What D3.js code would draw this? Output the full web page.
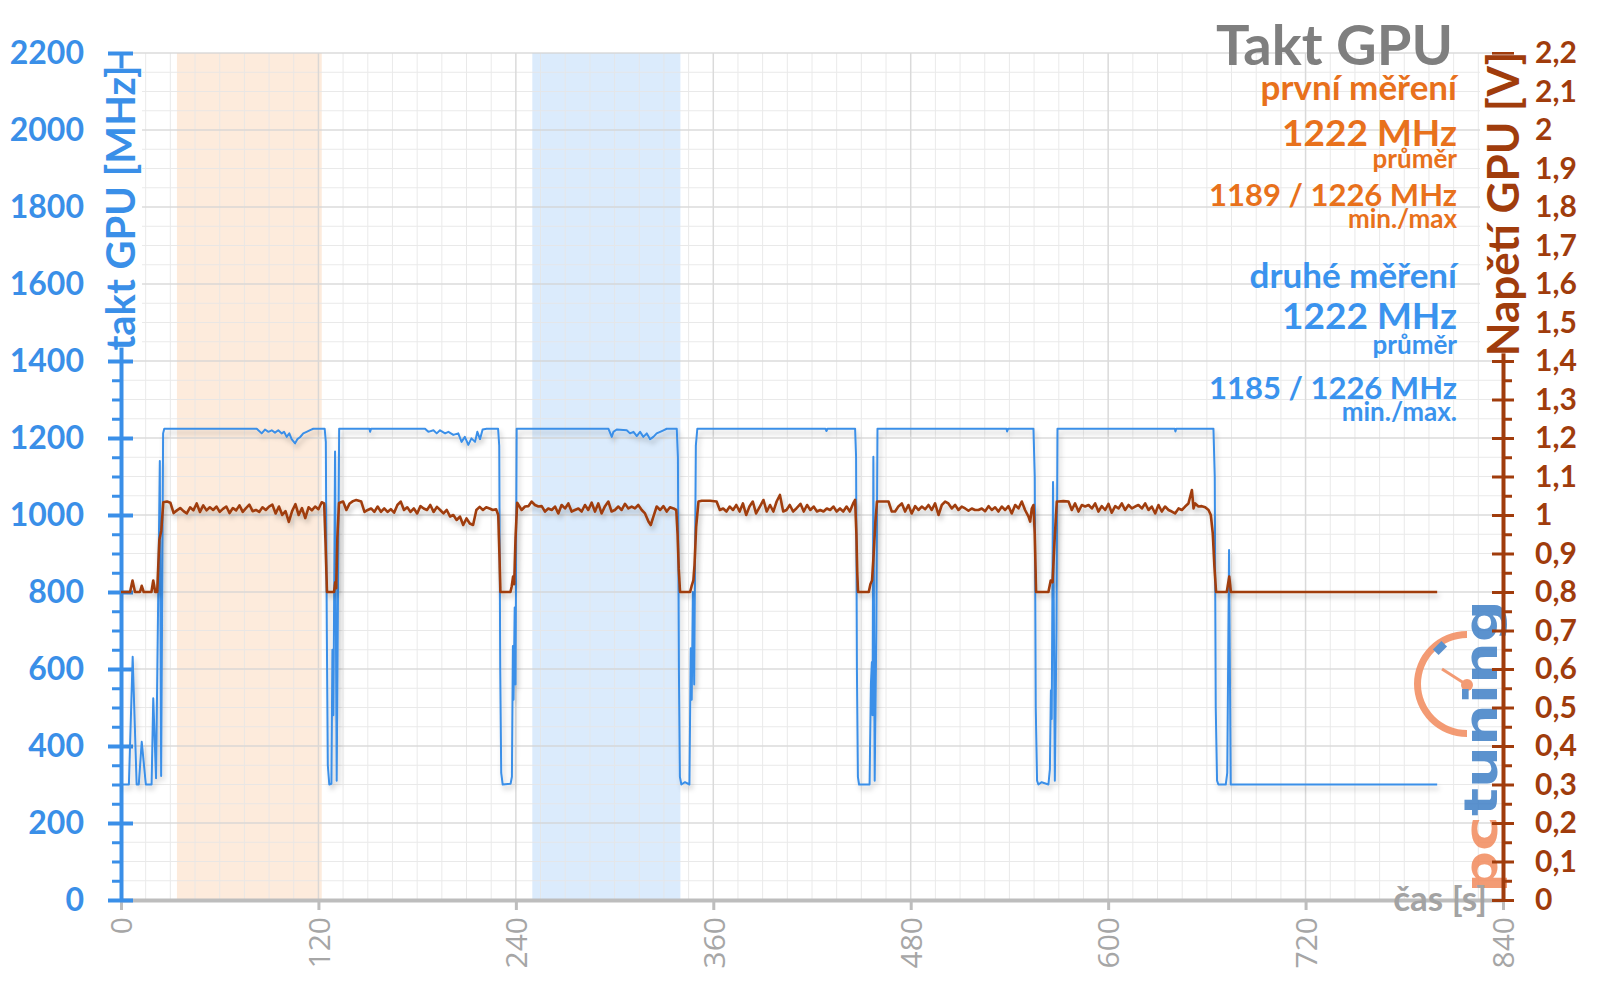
<!DOCTYPE html>
<html><head><meta charset="utf-8">
<script src="https://cdn.jsdelivr.net/npm/d3@7"></script>
<style>html,body{margin:0;padding:0;background:#fff;}svg{display:block}</style>
</head><body>
<svg id="chart" width="1600" height="999"></svg>
<script>
// ---------------- DATA ----------------
const xTicks = [0,120,240,360,480,600,720,840];
const leftTicks = [0,200,400,600,800,1000,1200,1400,1600,1800,2000,2200];
const rightTicks = [0,0.1,0.2,0.3,0.4,0.5,0.6,0.7,0.8,0.9,1,1.1,1.2,1.3,1.4,1.5,1.6,1.7,1.8,1.9,2,2.1,2.2];
const rightTickLabels = ["0","0,1","0,2","0,3","0,4","0,5","0,6","0,7","0,8","0,9","1","1,1","1,2","1,3","1,4","1,5","1,6","1,7","1,8","1,9","2","2,1","2,2"];
const bandFirst = [34,122];   // první měření (orange)
const bandSecond = [250,340]; // druhé měření (blue)

// GPU clock [s, MHz]
const clockPoints = [
[0,300],[4.8,300],[7.1,632],[9.5,300],[10.8,300],[12.6,411],[15.1,300],[18.6,300],[19.6,524],[21.3,316],[23.6,1140],[24.4,322],[25.6,1212],[26.3,1224],
[82.5,1224],[85.5,1212],[87.5,1222],[89.6,1216],[91.6,1220],[93.6,1214],[95.6,1220],[97.7,1212],[99.1,1216],[100.7,1203],[102.3,1212],[103.7,1197],[105.8,1186],[107.2,1197],[108.8,1202],[110.8,1212],[112.8,1216],[115.3,1221],[116.9,1224],[123.8,1224],[124.5,1190],[125.1,700],[125.7,350],[126.6,300],[127.9,302],[128.5,650],[129.1,480],[130.1,1165],[131.1,310],[132.6,1224],
[151,1224],[151.4,1216],[152,1224],[184.8,1224],[186.8,1216],[189.9,1220],[191.9,1212],[193.9,1220],[197,1212],[199,1216],[202,1208],[205,1212],[207,1190],[209,1203],[211.1,1182],[213,1199],[215.2,1190],[216.6,1216],[218.2,1197],[219.8,1222],[222.3,1224],[229.2,1224],[229.9,1180],[230.5,600],[231.1,330],[232,300],[236.8,302],[237.6,320],[238.2,660],[238.6,520],[239.3,760],[239.8,560],[240.5,1224],
[296.3,1224],[298.3,1203],[299.3,1216],[301.3,1222],[307.4,1220],[309.4,1212],[311.5,1216],[313.5,1205],[315.5,1216],[317.5,1203],[319.6,1212],[321.6,1197],[323.6,1203],[325.6,1212],[327.7,1216],[329.7,1220],[331.7,1224],[337.8,1224],[338.5,1150],[339.1,600],[339.7,320],[340.6,300],[342.8,306],[345.5,300],[346.3,654],[346.9,520],[347.6,800],[348.4,560],[349.4,1180],[350.3,1224],
[428.2,1224],[428.8,1218],[429.4,1224],[446.2,1224],[446.8,1150],[447.3,600],[447.9,320],[448.6,300],[455,300],[455.8,560],[456.4,618],[456.8,480],[457.3,1151],[458.1,310],[459.1,700],[459.8,1224],
[538.2,1224],[538.6,1217],[539.2,1224],[554.6,1224],[555.4,1100],[556,500],[556.8,310],[557.6,300],[559.6,306],[563.7,300],[564.6,340],[565.2,545],[565.7,470],[566.5,1086],[567.6,310],[568.6,700],[569.2,1224],
[640.5,1224],[640.9,1217],[641.4,1224],[664,1224],[664.8,1100],[665.4,500],[666.2,310],[667,300],[671.5,300],[672.4,330],[673.5,909],[674.5,300],[800,300]
];

// GPU voltage [s, V]
const voltagePoints = [
[0,0.80],[5.5,0.80],[7,0.83],[8.5,0.80],[11.5,0.80],[12.6,0.816],[13.8,0.80],[18.5,0.80],[19.6,0.83],[20.8,0.80],[22,0.80],[23.3,0.935],[24.5,0.96],[25.7,1.033],
[28,1.035],[30,1.032],[32,1.005],[34,1.012],[36,1.018],[38,1.010],[40,1.004],[42,1.020],[44,1.012],[46,1.030],[48,1.008],[50,1.025],[52,1.012],[54,1.020],[56,1.013],[58,1.022],[60,1.008],[62,1.016],[64,1.022],[66,1.005],[68,1.018],[70,1.012],[72,1.025],[74,1.008],[76,1.018],[78,1.027],[80,1.010],[82,1.013],[84,1.008],[86,1.020],[88,1.013],[90,1.022],[92,1.027],[94,1.004],[96,1.022],[98,1.000],[100,1.010],[102,0.982],[104,1.010],[106,1.028],[108,1.000],[110,1.018],[112,0.992],[114,1.020],[116,1.012],[118,1.022],[120,1.015],[122,1.033],[123.5,1.030],[124.3,0.93],[125.2,0.80],
[129.5,0.80],[130.2,0.825],[130.8,0.81],[131.5,0.94],[132.5,1.031],
[135,1.035],[137,1.013],[139,1.030],[141,1.036],[143,1.039],[146,1.035],[148,1.008],[150,1.013],[152,1.017],[154,1.008],[156,1.022],[158,1.008],[160,1.017],[162,1.008],[164,1.015],[166,1.006],[168,1.026],[170,1.035],[172,1.013],[174,1.020],[176,1.008],[178,1.017],[180,1.004],[182,1.023],[184,1.017],[186,1.013],[188,1.026],[190,1.008],[192,1.021],[194,1.013],[196,1.004],[198,1.013],[200,0.996],[202,1.000],[204,0.987],[206,0.996],[208,0.974],[210,0.991],[212,0.978],[214,0.974],[216,1.013],[218,1.021],[220,1.013],[222,1.020],[224,1.017],[226,1.013],[228,1.015],[229.3,1.00],[230,0.90],[230.6,0.80],
[236.7,0.80],[237.5,0.815],[238.3,0.84],[239,0.82],[239.8,0.94],[240.8,1.032],
[243.5,1.013],[245.6,1.022],[247.6,1.023],[249.6,1.035],[251.6,1.026],[253.7,1.022],[255.7,1.023],[257.7,1.009],[259.7,1.017],[261.8,1.013],[263.8,1.022],[265.8,1.004],[267.8,1.026],[269.9,1.017],[271.9,1.030],[273.9,1.009],[275.9,1.013],[278,1.017],[280,1.009],[282,1.026],[284,1.013],[286.1,1.032],[288.1,1.009],[290.1,1.030],[292.1,1.004],[294.2,1.023],[296.2,1.035],[298.2,1.009],[300.2,1.013],[302.3,1.022],[304.3,1.013],[306.3,1.029],[308.4,1.017],[310.4,1.022],[312.4,1.017],[314.4,1.026],[316.5,1.013],[318.5,1.004],[320.6,0.983],[322,0.974],[323.6,0.996],[325.6,1.022],[327.7,1.013],[329.7,1.023],[331.7,1.009],[333.7,1.020],[335.8,1.017],[337.5,1.013],[338.3,0.95],[339,0.86],[339.8,0.80],
[345.9,0.80],[346.8,0.815],[347.9,0.83],[348.6,0.87],[349.6,0.97],[351,1.035],
[353,1.037],[355,1.037],[358,1.037],[362,1.035],[364,1.013],[366,1.017],[368,1.009],[370,1.022],[372,1.013],[374,1.026],[376,1.009],[378,1.030],[380,1.000],[382,1.022],[384,1.035],[386,1.004],[388.5,1.023],[390.5,1.039],[392.5,1.009],[394.5,1.026],[396.5,1.009],[398.5,1.035],[400.5,1.052],[402.5,1.009],[404.5,1.013],[406.5,1.026],[408.5,1.009],[410.5,1.017],[413,1.029],[415,1.009],[417,1.026],[419,1.013],[421,1.022],[423,1.009],[425,1.013],[427,1.009],[429,1.017],[431,1.013],[433,1.022],[435,1.009],[437,1.017],[439,1.009],[441,1.022],[443,1.009],[445,1.030],[446.2,1.039],[447,0.95],[447.5,0.85],[448,0.80],
[454.5,0.80],[455.5,0.82],[456.5,0.83],[457.5,0.90],[458.5,0.98],[459.5,1.035],
[463.4,1.035],[466.5,1.035],[468.5,1.009],[470.5,1.009],[472.5,1.022],[474.6,1.030],[476.6,1.009],[478.6,1.026],[480.6,1.004],[482.7,1.023],[484.7,1.013],[486.7,1.022],[488.8,1.015],[490.8,1.026],[492.8,1.013],[494.8,1.030],[496.9,1.000],[498.9,1.026],[500.9,1.035],[502.9,1.030],[505,1.017],[507,1.026],[509,1.013],[511,1.022],[513.1,1.017],[515.1,1.011],[517.1,1.017],[519.1,1.013],[521.2,1.013],[523.2,1.017],[525.2,1.010],[527.3,1.023],[529.3,1.013],[531.3,1.020],[533.3,1.009],[535.4,1.022],[537.4,1.013],[539.4,1.023],[541.4,1.004],[543.5,1.026],[545.5,1.017],[547.5,1.035],[549.5,1.013],[551.6,0.996],[552.6,0.983],[553.6,1.017],[554.6,1.026],[555.4,0.95],[556.2,0.80],
[563.7,0.80],[565.1,0.83],[566.2,0.825],[567.4,0.93],[568.8,1.035],
[569.8,1.035],[572.8,1.036],[575.9,1.035],[577.9,1.013],[579.9,1.030],[582,1.009],[584,1.026],[586,1.022],[588.1,1.026],[590.1,1.017],[592.1,1.030],[594.1,1.009],[596.1,1.023],[598.2,1.013],[600.2,1.029],[602.2,1.006],[604.3,1.023],[606.3,1.017],[608.3,1.030],[610.3,1.013],[612.4,1.026],[614.4,1.017],[616.4,1.022],[618.4,1.026],[620.5,1.017],[622.5,1.030],[624.5,1.013],[626.5,1.022],[628.6,1.004],[630.6,1.026],[632.6,1.009],[634.6,1.022],[636.7,1.013],[638.7,1.009],[640.7,1.004],[642.8,1.017],[644.8,1.013],[646.8,1.022],[648.8,1.030],[650.9,1.065],[651.9,1.017],[652.9,1.030],[654.9,1.022],[656.9,1.023],[659,1.020],[661,1.013],[662.4,1.000],[663.6,0.952],[664.6,0.866],[665.6,0.80],
[672.1,0.80],[673.6,0.84],[674.6,0.80],[800,0.80]
];

const infoLines = [
  {text:"Takt GPU", y:65, size:56, color:"#7f7f7f"},
  {text:"první měření", y:100, size:35, color:"#e8711c"},
  {text:"1222 MHz", y:146, size:37, color:"#e8711c"},
  {text:"průměr", y:168, size:26, color:"#e8711c"},
  {text:"1189 / 1226 MHz", y:206, size:31, color:"#e8711c"},
  {text:"min./max", y:228, size:26, color:"#e8711c"},
  {text:"druhé měření", y:288, size:35, color:"#3a93ee"},
  {text:"1222 MHz", y:329, size:37, color:"#3a93ee"},
  {text:"průměr", y:354, size:26, color:"#3a93ee"},
  {text:"1185 / 1226 MHz", y:399, size:31, color:"#3a93ee"},
  {text:"min./max.", y:421, size:26, color:"#3a93ee"}
];

// ---------------- CHART ----------------
const BLUE = "#3a8fe8", BROWN = "#a03c0c", GRAY = "#a6a6a6";
const svg = d3.select("#chart");
const x = d3.scaleLinear().domain([0,840]).range([121,1503]);
const yL = d3.scaleLinear().domain([0,2200]).range([900,53]);
const yR = d3.scaleLinear().domain([0,2.2]).range([900,53]);

const defs = svg.append("defs");
const f = defs.append("filter").attr("id","shadow").attr("x","-5%").attr("y","-5%").attr("width","110%").attr("height","120%");
f.append("feDropShadow").attr("dx",2).attr("dy",4).attr("stdDeviation",2.5).attr("flood-color","#000").attr("flood-opacity",0.22);

// bands
svg.append("rect").attr("x",x(bandFirst[0])).attr("width",x(bandFirst[1])-x(bandFirst[0]))
  .attr("y",yL(2200)).attr("height",yL(0)-yL(2200)).attr("fill","#fdebdc");
svg.append("rect").attr("x",x(bandSecond[0])).attr("width",x(bandSecond[1])-x(bandSecond[0]))
  .attr("y",yL(2200)).attr("height",yL(0)-yL(2200)).attr("fill","#dbebfc");

// grid
const grid = svg.append("g").attr("opacity",0.85);
grid.selectAll(".vmin").data(d3.range(0,841,15).filter(d=>d%120!==0)).join("line")
  .attr("x1",d=>x(d)).attr("x2",d=>x(d)).attr("y1",yL(2200)).attr("y2",yL(0)).attr("stroke","#e6e6e6").attr("stroke-width",1);
grid.selectAll(".hmin").data(d3.range(0,2201,50).filter(d=>d%200!==0)).join("line")
  .attr("x1",x(0)).attr("x2",x(840)).attr("y1",d=>yL(d)).attr("y2",d=>yL(d)).attr("stroke","#e6e6e6").attr("stroke-width",1);
grid.selectAll(".vmaj").data(xTicks.slice(1,-1)).join("line")
  .attr("x1",d=>x(d)).attr("x2",d=>x(d)).attr("y1",yL(2200)).attr("y2",yL(0)).attr("stroke","#d4d4d4").attr("stroke-width",1.5);
grid.selectAll(".hmaj").data(leftTicks.slice(1)).join("line")
  .attr("x1",x(0)).attr("x2",x(840)).attr("y1",d=>yL(d)).attr("y2",d=>yL(d)).attr("stroke","#d4d4d4").attr("stroke-width",1.5);

// logo (pctuning)
const logo = svg.append("g").attr("opacity",0.85);
const LOR = "#f28a5c", LBL = "#3f7fc6";
logo.append("path").attr("transform","translate(1467,684)")
  .attr("d", d3.arc().innerRadius(46).outerRadius(53).startAngle(-Math.PI).endAngle(0)())
  .attr("fill",LOR);
logo.append("rect").attr("x",-6).attr("y",-4).attr("width",12).attr("height",8).attr("fill",LBL)
  .attr("transform","translate(1440,648) rotate(-45)");
logo.append("line").attr("x1",1467).attr("y1",685).attr("x2",1442).attr("y2",669).attr("stroke",LOR).attr("stroke-width",3);
logo.append("circle").attr("cx",1467).attr("cy",685).attr("r",6).attr("fill",LOR);
const lt = logo.append("text").attr("transform","translate(1497,893) rotate(-90)")
  .attr("font-family","DejaVu Sans").attr("font-weight","bold").attr("font-size",46)
  .attr("textLength",293).attr("lengthAdjust","spacingAndGlyphs");
lt.append("tspan").attr("fill",LOR).text("pc");
lt.append("tspan").attr("fill",LBL).text("tuning");

// X axis
const xAxis = svg.append("g").attr("transform","translate(0,900)")
  .call(d3.axisBottom(x).tickValues(xTicks).tickSize(10).tickSizeOuter(0).tickFormat(d3.format("d")));
xAxis.select(".domain").attr("stroke","#bdbdbd").attr("stroke-width",4);
xAxis.selectAll(".tick line").attr("stroke","#bdbdbd").attr("stroke-width",3);
xAxis.selectAll(".tick text").attr("transform","rotate(-90)").attr("text-anchor","end")
  .attr("x",-17).attr("y",0).attr("dy","0.36em")
  .attr("font-family","Open Sans").attr("font-size",30).attr("fill",GRAY);

// Left axis
const lMinor = svg.append("g").attr("transform","translate(121,0)")
  .call(d3.axisLeft(yL).tickValues(d3.range(0,2201,50).filter(d=>d%200!==0)).tickSize(9).tickSizeOuter(0).tickFormat(""));
lMinor.select(".domain").remove();
lMinor.selectAll(".tick line").attr("stroke",BLUE).attr("stroke-width",3);
const lAxis = svg.append("g").attr("transform","translate(121,0)")
  .call(d3.axisLeft(yL).tickValues(leftTicks).tickSize(13).tickSizeOuter(0).tickFormat(d3.format("d")));
lAxis.select(".domain").attr("stroke",BLUE).attr("stroke-width",4);
lAxis.selectAll(".tick line").attr("stroke",BLUE).attr("stroke-width",4).attr("x1",12);
lAxis.selectAll(".tick text").attr("x",-37).attr("font-family","Lato").attr("font-weight","bold")
  .attr("font-size",32).attr("fill",BLUE);

// Right axis
const rMinor = svg.append("g").attr("transform","translate(1503,0)")
  .call(d3.axisRight(yR).tickValues(d3.range(0,45).filter(i=>i%2===1).map(i=>i*0.05)).tickSize(9).tickSizeOuter(0).tickFormat(""));
rMinor.select(".domain").remove();
rMinor.selectAll(".tick line").attr("stroke",BROWN).attr("stroke-width",3);
const rAxis = svg.append("g").attr("transform","translate(1503,0)")
  .call(d3.axisRight(yR).tickValues(rightTicks).tickSize(11).tickSizeOuter(0).tickFormat((d,i)=>rightTickLabels[i]));
rAxis.select(".domain").attr("stroke",BROWN).attr("stroke-width",4);
rAxis.selectAll(".tick line").attr("stroke",BROWN).attr("stroke-width",3).attr("x1",-11);
rAxis.selectAll(".tick text").attr("x",32).attr("font-family","Lato").attr("font-weight","bold")
  .attr("font-size",30).attr("fill",BROWN);

// series
const lineClock = d3.line().x(d=>x(d[0])).y(d=>yL(d[1]));
const lineVolt = d3.line().x(d=>x(d[0])).y(d=>yR(d[1]));
svg.append("path").datum(clockPoints).attr("d",lineClock).attr("fill","none")
  .attr("stroke",BLUE).attr("stroke-width",2).attr("stroke-linejoin","round").attr("filter","url(#shadow)");
svg.append("path").datum(voltagePoints).attr("d",lineVolt).attr("fill","none")
  .attr("stroke",BROWN).attr("stroke-width",2.6).attr("stroke-linejoin","round").attr("filter","url(#shadow)");

// axis titles (with white background box covering the axis line, as in the original)
function boxedTitle(tx, ty, size, color, label) {
  const g = svg.append("g").attr("transform",`translate(${tx},${ty}) rotate(-90)`);
  const t = g.append("text").attr("text-anchor","middle").attr("font-family","Lato").attr("font-weight","bold")
    .attr("font-size",size).attr("fill",color).text(label);
  const b = t.node().getBBox();
  g.insert("rect","text").attr("x",b.x+3).attr("y",b.y+4).attr("width",b.width-6).attr("height",b.height-6).attr("fill","#fff");
}
boxedTitle(135,208,40,BLUE,"takt GPU [MHz]");
boxedTitle(1519,204,44,BROWN,"Napětí GPU [V]");

svg.append("text").attr("x",1487).attr("y",911).attr("text-anchor","end")
  .attr("font-family","Lato").attr("font-weight","bold").attr("font-size",35).attr("fill","#a3a3a3").text("čas [s]");

// info text block
svg.append("g").selectAll("text").data(infoLines).join("text")
  .attr("x",(d,i)=>i===0?1453:1457).attr("y",d=>d.y).attr("text-anchor","end")
  .attr("font-family","Lato").attr("font-weight","bold")
  .attr("font-size",d=>d.size).attr("fill",d=>d.color).text(d=>d.text);
</script>
</body></html>
